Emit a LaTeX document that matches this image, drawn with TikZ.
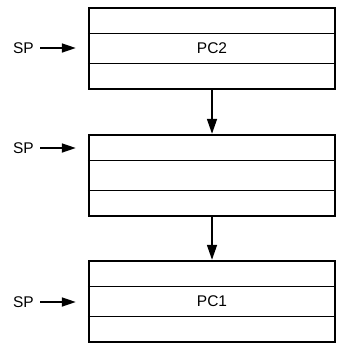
\documentclass[tikz,border=0pt]{standalone}
\usepackage{fontspec}
\setmainfont{Liberation Sans}
\usetikzlibrary{arrows.meta}
\tikzset{
  every node/.style={font=\fontsize{15.5}{18}\selectfont},
  stackbox/.style={draw, line width=2.4pt, minimum width=246pt, minimum height=81pt, inner sep=0pt},
  divider/.style={line width=1.3pt},
  splabel/.style={inner sep=0pt, anchor=east},
  harrow/.style={line width=1.7pt, -{Triangle[length=14pt,width=9pt]}, shorten <=6pt, shorten >=12pt},
  varrow/.style={line width=1.7pt, -{Triangle[length=15pt,width=10pt]}},
}
\begin{document}
\begin{tikzpicture}[x=1pt,y=-1pt]
\useasboundingbox (0,0) rectangle (342,343);
% boxes
\node[stackbox] (b1) at (212,48.5) {};
\node[stackbox] (b2) at (212,175.5) {};
\node[stackbox] (b3) at (212,301.5) {};
% dividers
\foreach \b in {b1,b2,b3}{
  \draw[divider] ([yshift=-27pt]\b.north west) -- ([yshift=-27pt]\b.north east);
  \draw[divider] ([yshift=27pt]\b.south west) -- ([yshift=27pt]\b.south east);
}
% texts
\node (pc2) at (b1.center) {PC2};
\node (pc1) at (b3.center) {PC1};
% SP pointers
\node[splabel] (sp1) at (34,48) {SP};
\node[splabel] (sp2) at (34,148) {SP};
\node[splabel] (sp3) at (34,302) {SP};
\draw[harrow] (sp1.east) -- (sp1.east -| b1.west);
\draw[harrow] (sp2.east) -- (sp2.east -| b2.west);
\draw[harrow] (sp3.east) -- (sp3.east -| b3.west);
% links
\draw[varrow] (b1.south) -- (b2.north);
\draw[varrow] (b2.south) -- (b3.north);
\end{tikzpicture}
\end{document}
